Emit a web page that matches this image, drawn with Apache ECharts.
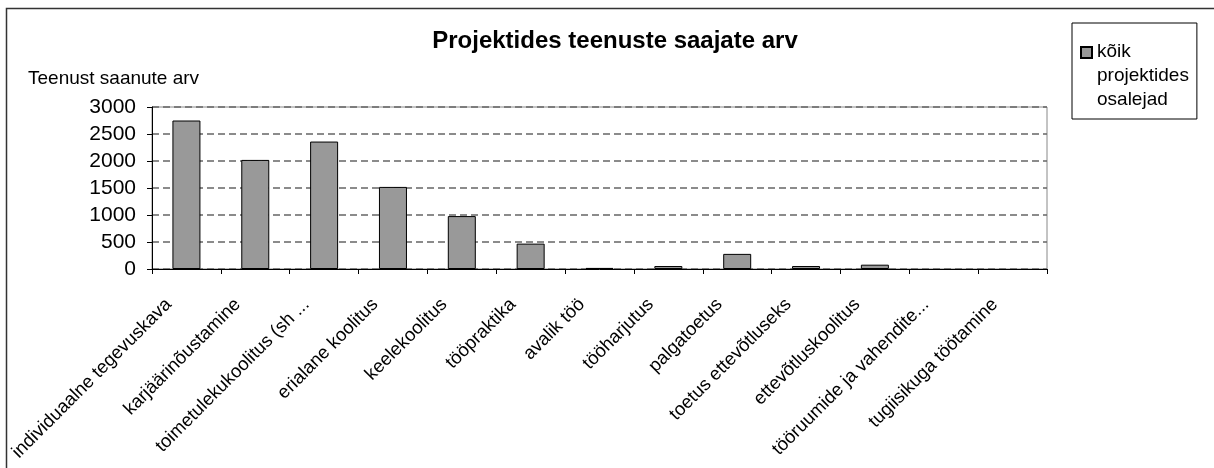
<!DOCTYPE html>
<html>
<head>
<meta charset="utf-8">
<script src="https://cdn.jsdelivr.net/npm/echarts@6/dist/echarts.min.js"></script>
<style>
  html, body { margin: 0; padding: 0; background: #fff; }
  #chart { width: 1214px; height: 468px; }
</style>
</head>
<body>
<div id="chart"></div>
<script>
  // andmed
  const categories = [
    'individuaalne tegevuskava', 'karjäärinõustamine', 'toimetulekukoolitus (sh ...',
    'erialane koolitus', 'keelekoolitus', 'tööpraktika', 'avalik töö', 'tööharjutus',
    'palgatoetus', 'toetus ettevõtluseks', 'ettevõtluskoolitus',
    'tööruumide ja vahendite...', 'tugiisikuga töötamine'
  ];
  const seriesName = 'kõik projektides osalejad';
  const values = [2750, 2020, 2360, 1520, 980, 470, 20, 55, 280, 55, 80, 0, 0];
  const yTicks = [0, 500, 1000, 1500, 2000, 2500, 3000];

  const font = 'Liberation Sans, Arial, sans-serif';
  const chart = echarts.init(document.getElementById('chart'));

  // nullväärtusega tulpadel ei joonistata äärist
  const barData = values.map(v => v === 0 ? { value: v, itemStyle: { borderWidth: 0 } } : v);

  const option = {
    animation: false,
    backgroundColor: '#fff',
    title: [
      {
        text: 'Projektides teenuste saajate arv',
        left: 615,
        top: 29,
        padding: 0,
        textAlign: 'center',
        textStyle: { fontFamily: font, fontSize: 24, fontWeight: 'bold', color: '#000' }
      },
      {
        text: 'Teenust saanute arv',
        left: 28,
        top: 69,
        padding: 0,
        textStyle: { fontFamily: font, fontSize: 19, fontWeight: 'normal', color: '#000' }
      }
    ],
    legend: {
      left: 1072,
      top: 23,
      padding: [17, 8, 7, 8],
      borderColor: '#000',
      borderWidth: 1,
      itemWidth: 11,
      itemHeight: 62,
      icon: 'path://M5,0V0.1 M0,2H11V13H0Z M5,61.9V62',
      formatter: name => name.split(' ').join('\n'),
      textStyle: { fontFamily: font, fontSize: 19, lineHeight: 24, color: '#000' },
      data: [seriesName]
    },
    grid: {
      left: 152,
      top: 107,
      right: 167,
      bottom: 199,
      show: true,
      borderColor: '#888',
      borderWidth: 1,
      outerBoundsMode: 'none'
    },
    xAxis: {
      type: 'category',
      data: categories,
      axisLine: { lineStyle: { color: '#000', width: 1 } },
      axisTick: { show: true, length: 5, lineStyle: { color: '#000' } },
      axisLabel: {
        interval: 0,
        rotate: 45,
        margin: 15,
        padding: [0, 25, 0, 0],
        fontFamily: font,
        fontSize: 18.5,
        color: '#000'
      }
    },
    yAxis: {
      type: 'value',
      min: yTicks[0],
      max: yTicks[yTicks.length - 1],
      interval: 500,
      axisLine: { show: true, lineStyle: { color: '#000', width: 1 } },
      axisTick: { show: true, length: 5, lineStyle: { color: '#000' } },
      axisLabel: {
        margin: 16,
        fontFamily: font,
        fontSize: 21,
        color: '#000',
        formatter: v => String(v)
      },
      splitLine: { show: true, lineStyle: { color: '#666', type: [7, 4], width: 1.5 } }
    },
    series: [
      {
        name: seriesName,
        type: 'bar',
        data: barData,
        barWidth: 28,
        itemStyle: { color: '#999999', borderColor: '#000', borderWidth: 1 }
      }
    ],
    graphic: [
      {
        type: 'rect',
        shape: { x: 6.5, y: 8.5, width: 1300, height: 600 },
        style: { fill: null, stroke: '#333', lineWidth: 1.5 },
        silent: true
      }
    ]
  };

  chart.setOption(option);
  window.addEventListener('resize', function () {
    chart.resize();
  });
</script>
</body>
</html>
